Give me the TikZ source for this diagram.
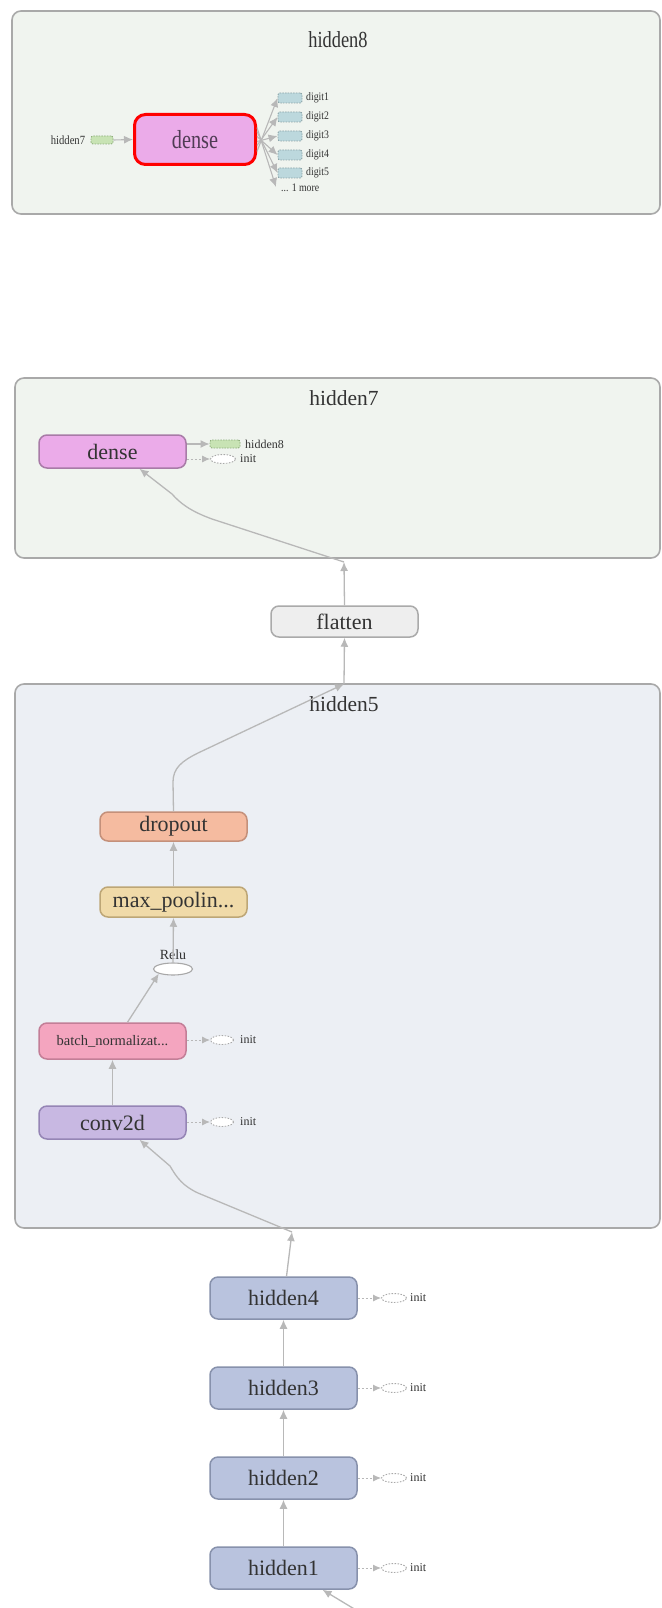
\documentclass[tikz,border=0pt]{standalone}
\usepackage{fontspec}
\usepackage{graphicx}
\setmainfont{Liberation Serif}
\usetikzlibrary{arrows.meta,shapes.geometric}
\definecolor{arrowgray}{HTML}{B8B8B8}
\definecolor{txt}{HTML}{333333}
\definecolor{panelgreen}{HTML}{F0F4EF}
\definecolor{panelblue}{HTML}{ECEFF4}
\definecolor{panelborder}{HTML}{A9A9A9}
\definecolor{densefill}{HTML}{EBABE9}
\definecolor{denseborder}{HTML}{A87BA7}
\definecolor{flatfill}{HTML}{EEEEEE}
\definecolor{flatborder}{HTML}{AAAAAA}
\definecolor{dropfill}{HTML}{F5BBA0}
\definecolor{dropborder}{HTML}{C4907A}
\definecolor{poolfill}{HTML}{F0DAA8}
\definecolor{poolborder}{HTML}{BDA676}
\definecolor{bnfill}{HTML}{F4A5BF}
\definecolor{bnborder}{HTML}{C37E97}
\definecolor{convfill}{HTML}{C8B8E2}
\definecolor{convborder}{HTML}{9585B5}
\definecolor{hidfill}{HTML}{B9C3DE}
\definecolor{hidborder}{HTML}{8791AC}
\definecolor{greenbox}{HTML}{C8E3B4}
\definecolor{greenboxb}{HTML}{8FAF7C}
\definecolor{digitbox}{HTML}{BCD8DD}
\definecolor{digitboxb}{HTML}{8CA4A8}
\definecolor{initb}{HTML}{A8A8A8}
\tikzset{
  arr/.style={draw=arrowgray, line width=1.3pt, -{Latex[length=9pt,width=8pt]}},
  darr/.style={draw=arrowgray, line width=1pt, dash pattern=on 2pt off 2pt, -{Latex[length=8pt,width=7pt]}},
  opbox/.style={rectangle, rounded corners=8pt, line width=1.5pt, inner sep=0pt,
    minimum width=147pt, text=txt, font=\fontsize{22}{22}\selectfont},
  panelbox/.style={rectangle, rounded corners=9pt, line width=1.6pt, draw=panelborder, inner sep=0pt},
  title/.style={text=txt, font=\fontsize{21.5}{21.5}\selectfont, inner sep=0pt},
  small/.style={text=txt, font=\fontsize{12}{12}\selectfont, inner sep=0pt, anchor=west},
  initell/.style={ellipse, draw=initb, dash pattern=on 1.5pt off 1.5pt, fill=white, line width=0.9pt,
    minimum width=25pt, minimum height=9pt, inner sep=0pt},
  gbox/.style={rectangle, rounded corners=2pt, draw=greenboxb, fill=greenbox, dash pattern=on 1.5pt off 1.2pt,
    line width=0.9pt, minimum height=8pt, inner sep=0pt},
  dbox/.style={rectangle, rounded corners=2pt, draw=digitboxb, fill=digitbox, dash pattern=on 1.5pt off 1.2pt,
    line width=0.9pt, minimum width=24pt, minimum height=10pt, inner sep=0pt},
  dlabel/.style={text=txt, font=\fontsize{11.5}{11.5}\selectfont, inner sep=0pt, anchor=west},
}
\begin{document}
\begin{tikzpicture}[x=1pt,y=-1pt]
\useasboundingbox (0,0) rectangle (661,1608);
\fill[white] (0,0) rectangle (661,1608);

% ---------------- hidden8 panel ----------------
\node[panelbox, fill=panelgreen, minimum width=648pt, minimum height=203pt] (p8) at (336,112.5) {};
\node[title, font=\fontsize{23}{23}\selectfont] (t8) at (338,40) {\scalebox{0.8}[1]{hidden8}};
\node[text=txt, font=\fontsize{12.5}{12.5}\selectfont, inner sep=0pt] (l7) at (68,140) {\scalebox{0.85}[1]{hidden7}};
\node[gbox, minimum width=22pt] (g7) at (102,140) {};
\node[rectangle, rounded corners=11pt, draw=red, line width=3pt, fill=densefill, minimum width=121pt,
  minimum height=50pt, inner sep=0pt, text={rgb,255:red,80;green,60;blue,85},
  font=\fontsize{26}{26}\selectfont] (d8) at (195,139.5) {\scalebox{0.78}[1]{dense}};
\draw[arr, line width=1.1pt] (g7.east) -- (d8.west);
\node[dbox] (dg1) at (290,98) {};
\node[dbox] (dg2) at (290,117) {};
\node[dbox] (dg3) at (290,136) {};
\node[dbox] (dg4) at (290,155) {};
\node[dbox] (dg5) at (290,173) {};
\node[dlabel] (ldg1) at (306,98) {\scalebox{0.85}[1]{digit1}};
\node[dlabel] (ldg2) at (306,117) {\scalebox{0.85}[1]{digit2}};
\node[dlabel] (ldg3) at (306,136) {\scalebox{0.85}[1]{digit3}};
\node[dlabel] (ldg4) at (306,155) {\scalebox{0.85}[1]{digit4}};
\node[dlabel] (ldg5) at (306,173) {\scalebox{0.85}[1]{digit5}};
\node[dlabel] (more) at (281,188) {\scalebox{0.85}[1]{... 1 more}};
\coordinate (moretip) at (276,187);
\draw[arr, line width=1.1pt] ([yshift=-12pt]d8.east) -- (dg1.west);
\draw[arr, line width=1.1pt] ([yshift=-6pt]d8.east) -- (dg2.west);
\draw[arr, line width=1.1pt] ([yshift=-2pt]d8.east) -- (dg3.west);
\draw[arr, line width=1.1pt] ([yshift=3pt]d8.east) -- (dg4.west);
\draw[arr, line width=1.1pt] ([yshift=8pt]d8.east) -- (dg5.west);
\draw[arr, line width=1.1pt] ([yshift=12pt]d8.east) -- (moretip);

% ---------------- hidden7 panel ----------------
\node[panelbox, fill=panelgreen, minimum width=645pt, minimum height=180pt] (p7) at (337.5,468) {};
\node[title] (t7) at (344,398) {hidden7};
\node[opbox, fill=densefill, draw=denseborder, minimum height=33pt] (d7) at (112.5,451.5) {dense};
\node[gbox, minimum width=30pt] (g8) at (225,444) {};
\node[small] (lg8) at (245,444) {hidden8};
\node[initell] (i7) at (223,459) {};
\node[small] (li7) at (240,459) {init};
\draw[arr, line width=1.1pt] (d7.east |- g8) -- (g8.west);
\draw[darr] (d7.east |- i7) -- (i7.west);

% ---------------- flatten ----------------
\node[opbox, fill=flatfill, draw=flatborder, minimum height=31pt] (fl) at (344.5,621.5) {flatten};
\coordinate (h7in) at (344,562);
\coordinate (h5out) at (344,684);

% ---------------- hidden5 panel ----------------
\node[panelbox, fill=panelblue, minimum width=645pt, minimum height=544pt] (p5) at (337.5,956) {};
\node[title] (t5) at (344,704) {hidden5};
\node[opbox, fill=dropfill, draw=dropborder, minimum height=29pt] (dr) at (173.5,826.5) {dropout};
\node[opbox, fill=poolfill, draw=poolborder, minimum height=30pt] (mp) at (173.5,902) {max\_poolin...};
\node[ellipse, draw=initb, fill=white, line width=1.1pt, minimum width=39pt, minimum height=12pt, inner sep=0pt] (relu) at (173,969) {};
\node[text=txt, font=\fontsize{14}{14}\selectfont, inner sep=0pt] (lrelu) at (173,955) {Relu};
\node[opbox, fill=bnfill, draw=bnborder, minimum height=36pt, font=\fontsize{14.5}{14.5}\selectfont] (bn) at (112.5,1041) {batch\_normalizat...};
\node[initell, minimum width=23pt] (ibn) at (222,1040) {};
\node[small] (libn) at (240,1040) {init};
\node[opbox, fill=convfill, draw=convborder, minimum height=33pt] (cv) at (112.5,1122.5) {conv2d};
\node[initell, minimum width=23pt] (icv) at (222,1122) {};
\node[small] (licv) at (240,1122) {init};
\coordinate (h5in) at (292,1232);

\draw[darr] (bn.east |- ibn) -- (ibn.west);
\draw[darr] (cv.east |- icv) -- (icv.west);
\draw[arr] (cv.north) -- (bn.north |- bn.south);
\draw[arr] ([xshift=15pt]bn.north) -- (relu.south west);
\draw[arr] (relu.north) -- (mp.south);
\draw[arr] (mp.north) -- (dr.south);
\draw[arr] (dr.north) -- (173,782) .. controls (173,768) and (182,761) .. (198,753) -- (h5out);
\draw[arr] (h5out) -- (fl.south);
\draw[arr] (fl.north) -- (h7in);
\draw[arr] (h7in) -- (212,519) .. controls (190,511) and (180,503) .. (172,494) -- ([xshift=27pt]d7.south);
\draw[arr] (h5in) -- (198,1193) .. controls (183,1186) and (177,1178) .. (170,1166) -- ([xshift=27pt]cv.south);

% ---------------- hidden1..4 ----------------
\node[opbox, fill=hidfill, draw=hidborder, minimum height=42pt] (h4) at (283.5,1298) {hidden4};
\node[opbox, fill=hidfill, draw=hidborder, minimum height=42pt] (h3) at (283.5,1388) {hidden3};
\node[opbox, fill=hidfill, draw=hidborder, minimum height=42pt] (h2) at (283.5,1478) {hidden2};
\node[opbox, fill=hidfill, draw=hidborder, minimum height=42pt] (h1) at (283.5,1568) {hidden1};
\foreach \n in {1,2,3,4}{
  \node[initell] (ih\n) at (394,{1568-90*(\n-1)}) {};
  \node[small] (lih\n) at (410,{1568-90*(\n-1)}) {init};
  \draw[darr] (h\n.east |- ih\n) -- (ih\n.west);
}
\draw[arr] (h1.north) -- (h2.south);
\draw[arr] (h2.north) -- (h3.south);
\draw[arr] (h3.north) -- (h4.south);
\draw[arr] ([xshift=3pt]h4.north) -- (h5in);
\coordinate (bottomin) at (356,1610);
\draw[arr] (bottomin) -- ([xshift=39pt]h1.south);
\end{tikzpicture}
\end{document}
